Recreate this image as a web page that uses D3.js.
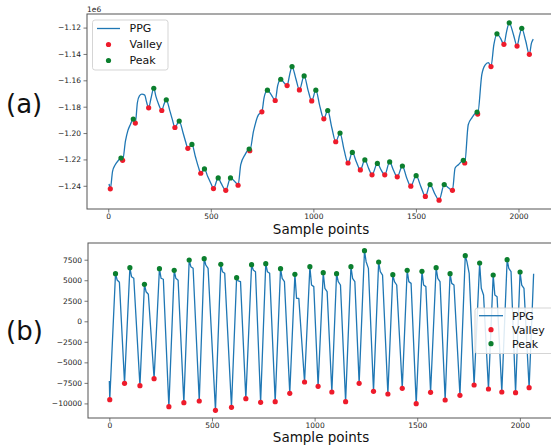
<!DOCTYPE html>
<html>
<head>
<meta charset="utf-8">
<script src="https://cdn.jsdelivr.net/npm/d3@7"></script>
<style>
  body { margin: 0; background: #fff; }
  svg { display: block; }
  text { font-family: "DejaVu Sans", sans-serif; }
</style>
</head>
<body>
<svg id="chart" width="551" height="447"></svg>
<script>
// ---------- (a) raw PPG with baseline wander (values in units of 1e6) ----------
const valleyA_x = [10,70,132,197,261,325,388,451,513,573,633,690,749,814,872,932,992,1051,1109,1169,1229,1286,1348,1409,1475,1546,1613,1678,1738,1801,1866,1929,1993,2053];
const valleyA_y = [-1.2423,-1.2207,-1.1924,-1.1809,-1.1829,-1.1958,-1.2116,-1.2305,-1.2421,-1.2434,-1.2396,-1.2134,-1.1839,-1.1753,-1.1640,-1.1673,-1.1756,-1.1892,-1.2066,-1.2227,-1.2280,-1.2317,-1.2317,-1.2332,-1.2403,-1.2481,-1.2509,-1.2434,-1.2227,-1.1856,-1.1496,-1.1327,-1.1340,-1.1403];
const peakA_x = [62,122,222,283,346,408,469,536,596,687,776,841,896,955,1012,1070,1130,1190,1251,1312,1372,1434,1501,1569,1638,1731,1798,1895,1955,2016];
const peakA_y = [-1.2189,-1.1894,-1.1660,-1.1748,-1.1909,-1.2086,-1.2272,-1.2340,-1.2340,-1.2121,-1.1675,-1.1592,-1.1496,-1.1567,-1.1675,-1.1829,-1.2000,-1.2147,-1.2204,-1.2230,-1.2219,-1.2250,-1.2323,-1.2391,-1.2391,-1.2207,-1.1841,-1.1247,-1.1164,-1.1206];
// remaining samples of the trace between the detected extrema
const traceA_x = [4,21,34,48,84,96,108,142,152,164,178,186,208,232,245,270,300,313,365,378,425,440,485,500,550,612,624,646,667,708,732,760,795,826,858,884,915,975,1032,1090,1150,1210,1270,1330,1390,1455,1525,1592,1658,1691,1707,1755,1772,1821,1837,1853,1880,1912,1942,1975,2005,2035,2063,2072];
const traceA_y = [-1.2385,-1.2290,-1.2240,-1.2210,-1.2060,-1.1980,-1.1935,-1.1770,-1.1718,-1.1705,-1.1712,-1.1760,-1.1740,-1.1720,-1.1780,-1.1790,-1.1830,-1.1900,-1.2000,-1.2070,-1.2180,-1.2260,-1.2330,-1.2380,-1.2380,-1.2360,-1.2380,-1.2240,-1.2164,-1.1988,-1.1862,-1.1730,-1.1710,-1.1640,-1.1620,-1.1560,-1.1590,-1.1680,-1.1800,-1.1960,-1.2130,-1.2220,-1.2270,-1.2280,-1.2280,-1.2340,-1.2410,-1.2460,-1.2415,-1.2265,-1.2240,-1.1937,-1.1887,-1.1559,-1.1484,-1.1466,-1.1330,-1.1280,-1.1230,-1.1250,-1.1260,-1.1300,-1.1320,-1.1287];
const yTicksA = [-1.24,-1.22,-1.20,-1.18,-1.16,-1.14,-1.12];

// ---------- (b) filtered PPG ----------
const valleyB_x = [2,74,149,218,290,363,438,517,595,665,737,808,879,951,1017,1084,1151,1217,1287,1357,1427,1495,1565,1636,1708,1777,1847,1912,1979,2045];
const valleyB_y = [-9548,-7551,-7843,-6990,-10400,-9913,-9706,-10839,-10474,-9426,-9865,-9791,-8769,-7392,-7916,-8610,-9791,-7551,-8525,-8854,-8160,-10035,-8647,-9584,-9012,-7758,-8245,-8610,-8696,-8087];
const peakB_x = [30,100,171,244,316,389,462,543,620,693,762,834,904,977,1042,1107,1177,1243,1312,1381,1451,1523,1592,1660,1734,1804,1870,1938,2001];
const peakB_y = [5797,6528,4506,6406,6211,7466,7624,6942,5310,6893,7015,6406,5724,6650,5919,5797,6650,8598,7222,5675,6211,6089,6528,5797,7989,7100,5639,7502,6004];
// dicrotic shoulder after each systolic peak
const notchB1_x = [38,108,179,252,324,397,470,551,628,701,770,842,912,985,1050,1115,1185,1251,1320,1389,1459,1531,1600,1668,1742,1812,1878,1946,2009];
const notchB1_y = [5030,5430,3600,5240,5240,6650,6857,6040,4910,6240,6040,5240,2800,4420,4020,4830,5240,7260,6040,4830,4830,4420,5240,4620,7260,4020,3200,6450,4420];
const notchB2_x = [49,119,190,263,335,408,481,562,639,712,781,853,923,996,1061,1126,1196,1262,1331,1400,1470,1542,1611,1679,1753,1823,1889,1957,2020];
const notchB2_y = [4750,5240,3300,5120,5000,6450,6450,5840,4830,6040,5840,4830,2800,4220,3610,4420,4830,6450,5630,4420,4620,4220,4830,4420,5840,3200,3000,6040,4020];
const edgeB_x = [0,2067];
const edgeB_y = [-7270,5780];
const yTicksB = [-10000,-7500,-5000,-2500,0,2500,5000,7500];

const xTicks = [0,500,1000,1500,2000];

const zip = (xs, ys) => xs.map((v, i) => [v, ys[i]]);
const merge = (...sets) => sets.flat().sort((a, b) => a[0] - b[0]);

const svg = d3.select("#chart");
const LINE = "#1f77b4", VALLEY = "#ee1b2b", PEAK = "#0b7f2e", SPINE = "#555";

function drawPanel(o) {
  const g = svg.append("g");
  const x = d3.scaleLinear().domain(o.xDomain).range([o.left, o.right]);
  const y = d3.scaleLinear().domain(o.yDomain).range([o.bottom, o.top]);

  svg.append("clipPath").attr("id", o.id + "-clip")
    .append("rect").attr("x", o.left).attr("y", o.top)
    .attr("width", o.right - o.left).attr("height", o.bottom - o.top);

  const line = d3.line().x(d => x(d[0])).y(d => y(d[1])).curve(o.curve);
  g.append("path").datum(o.trace).attr("d", line)
    .attr("fill", "none").attr("stroke", LINE).attr("stroke-width", 1.3)
    .attr("stroke-linejoin", "round")
    .attr("clip-path", `url(#${o.id}-clip)`);

  g.append("g").selectAll("circle").data(o.valleys).join("circle")
    .attr("cx", d => x(d[0])).attr("cy", d => y(d[1])).attr("r", 2.6).attr("fill", VALLEY);
  g.append("g").selectAll("circle").data(o.peaks).join("circle")
    .attr("cx", d => x(d[0])).attr("cy", d => y(d[1])).attr("r", 2.6).attr("fill", PEAK);

  // frame
  g.append("rect").attr("x", o.left).attr("y", o.top)
    .attr("width", o.right - o.left).attr("height", o.bottom - o.top)
    .attr("fill", "none").attr("stroke", SPINE).attr("stroke-width", 1);

  const xa = g.append("g").attr("transform", `translate(0,${o.bottom})`)
    .call(d3.axisBottom(x).tickValues(xTicks).tickFormat(d3.format("d")).tickSize(3.5).tickPadding(1.5));
  const ya = g.append("g").attr("transform", `translate(${o.left},0)`)
    .call(d3.axisLeft(y).tickValues(o.yTicks).tickFormat(o.yFormat).tickSize(3.5).tickPadding(2.5));
  [xa, ya].forEach(a => {
    a.select(".domain").remove();
    a.selectAll(".tick line").attr("stroke", SPINE).attr("stroke-width", 0.8);
    a.selectAll(".tick text").attr("font-size", 7.5).attr("fill", "#222")
      .attr("font-family", '"DejaVu Sans", sans-serif');
  });

  g.append("text").attr("x", o.xLabelX).attr("y", o.xLabelY).attr("text-anchor", "middle")
    .attr("font-size", 13.5).attr("fill", "#111").text("Sample points");

  g.append("text").attr("x", 6).attr("y", o.tagY)
    .attr("font-family", '"Liberation Sans", Arial, sans-serif')
    .attr("font-size", 26).attr("fill", "#111").text(o.tag);

  // legend
  const L = o.legend;
  const lg = g.append("g");
  lg.append("rect").attr("x", L.x).attr("y", L.y).attr("width", L.w).attr("height", L.h)
    .attr("rx", 2.5).attr("fill", "rgba(255,255,255,0.85)").attr("stroke", "#d0d0d0").attr("stroke-width", 0.9);
  const items = [["PPG", "line"], ["Valley", VALLEY], ["Peak", PEAK]];
  items.forEach((it, i) => {
    const cy = L.y + L.first + i * L.step;
    if (it[1] === "line") {
      lg.append("line").attr("x1", L.x + L.sx0).attr("x2", L.x + L.sx1).attr("y1", cy).attr("y2", cy)
        .attr("stroke", LINE).attr("stroke-width", 1.3);
    } else {
      lg.append("circle").attr("cx", L.x + (L.sx0 + L.sx1) / 2).attr("cy", cy).attr("r", 2.6).attr("fill", it[1]);
    }
    lg.append("text").attr("x", L.x + L.tx).attr("y", cy + L.fs * 0.36)
      .attr("font-size", L.fs).attr("fill", "#111").text(it[0]);
  });
  return { x, y };
}

// panel (a)
drawPanel({
  id: "pa", left: 87, right: 554.5, top: 14, bottom: 209,
  xDomain: [-103.6, 2175.6], yDomain: [-1.2576, -1.1097],
  yTicks: yTicksA, yFormat: d3.format(".2f"),
  trace: merge(zip(valleyA_x, valleyA_y), zip(peakA_x, peakA_y), zip(traceA_x, traceA_y)),
  valleys: zip(valleyA_x, valleyA_y), peaks: zip(peakA_x, peakA_y),
  curve: d3.curveMonotoneX,
  xLabelX: 321, xLabelY: 234, tag: "(a)", tagY: 112.5,
  legend: { x: 92.5, y: 20, w: 75.5, h: 50, first: 8.5, step: 16, sx0: 4.5, sx1: 27.5, tx: 37, fs: 11 }
});
svg.append("text").attr("x", 87).attr("y", 12).attr("font-size", 7.5).attr("fill", "#222").text("1e6");

// panel (b)
drawPanel({
  id: "pb", left: 88, right: 556, top: 243, bottom: 418,
  xDomain: [-104, 2176], yDomain: [-11777, 9536],
  yTicks: yTicksB, yFormat: d3.format("d"),
  trace: merge(zip(edgeB_x, edgeB_y), zip(valleyB_x, valleyB_y), zip(peakB_x, peakB_y),
               zip(notchB1_x, notchB1_y), zip(notchB2_x, notchB2_y)),
  valleys: zip(valleyB_x, valleyB_y), peaks: zip(peakB_x, peakB_y),
  curve: d3.curveLinear,
  xLabelX: 321, xLabelY: 442, tag: "(b)", tagY: 340,
  legend: { x: 475, y: 308, w: 85, h: 45.5, first: 7.7, step: 14, sx0: 4, sx1: 28, tx: 37, fs: 11 }
});
</script>
</body>
</html>
